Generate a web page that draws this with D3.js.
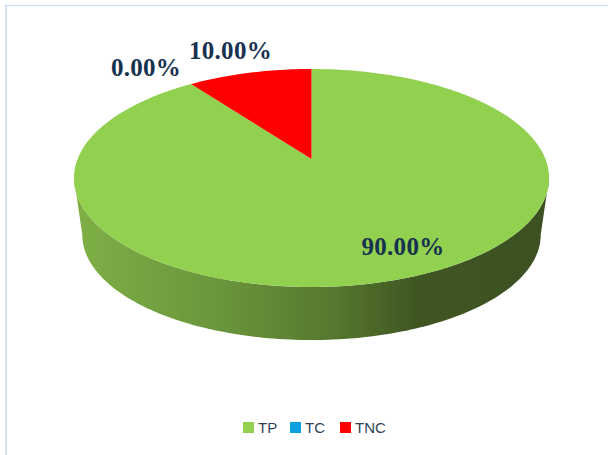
<!DOCTYPE html>
<html>
<head>
<meta charset="utf-8">
<script src="https://d3js.org/d3.v7.min.js"></script>
<style>
	html, body { margin: 0; padding: 0; background: #fff; }
	svg { display: block; }
</style>
</head>
<body>
<div id="chart"></div>
<script>
const categories = ["TP", "TC", "TNC"];
const values = [90, 0, 10];
const labels = ["90.00%", "0.00%", "10.00%"];
const colors = ["#92d050", "#0ba0e0", "#ff0000"];

const width = 608;
const height = 455;

// perspective settings of the disc, picked to fit the picture
const center = { x: 311.5, y: 159 };
const radiusX = 233.9;
const radiusY = 105.7;
const tilt = 0.1743;
const depth = 57.5;
const baseScale = 0.965;

const labelPos = [
	{ x: 403, y: 255 },
	{ x: 146, y: 76 },
	{ x: 230.5, y: 59 }
];
const legendX = [243, 290, 340];

const color = d3.scaleOrdinal().domain(categories).range(colors);

const svg = d3.select("#chart").append("svg")
	.attr("width", width)
	.attr("height", height);

// frame lines at the top and left of the picture
svg.append("line").attr("x1", 5).attr("x2", width).attr("y1", 5.5).attr("y2", 5.5)
	.style("stroke", "#d3e2f4").style("stroke-width", 1.5);
svg.append("line").attr("x1", 6).attr("x2", 6).attr("y1", 5).attr("y2", height)
	.style("stroke", "#d3e2f4").style("stroke-width", 2);

const defs = svg.append("defs");
const wallGrad = defs.append("linearGradient")
	.attr("id", "wall")
	.attr("gradientUnits", "userSpaceOnUse")
	.attr("x1", 74).attr("x2", 549).attr("y1", 0).attr("y2", 0);
[[0, "#7fb046"], [0.3, "#6b963b"], [0.55, "#56772f"], [0.72, "#3f5622"], [1, "#3c5021"]]
	.forEach(d => wallGrad.append("stop").attr("offset", d[0]).attr("stop-color", d[1]));

// angle 0 is twelve o'clock, going clockwise like d3.pie
function topPoint(a) {
	const u = Math.sin(a);
	const v = -Math.cos(a);
	const w = 1 - tilt * v;
	return [center.x + radiusX * u / w, center.y + radiusY * v / w];
}

function basePoint(a) {
	const p = topPoint(a);
	return [
		center.x + (p[0] - center.x) * baseScale,
		center.y + (p[1] - center.y) * baseScale + depth
	];
}

function arcPoints(start, end, fn) {
	const n = Math.max(2, Math.ceil((end - start) / 0.02));
	return d3.range(n + 1).map(i => fn(start + (end - start) * i / n));
}

const line = d3.line();
const pie = d3.pie().sort(null);
const arcs = pie(values);

// side wall runs between the widest points of the two rims
const wallStart = Math.PI / 2 + Math.asin(tilt);
const wallEnd = 3 * Math.PI / 2 - Math.asin(tilt);
const wallPts = arcPoints(wallStart, wallEnd, topPoint)
	.concat(arcPoints(wallStart, wallEnd, basePoint).reverse());

svg.append("path")
	.attr("class", "wall")
	.attr("d", line(wallPts) + "Z")
	.style("fill", "url(#wall)");

// top face
svg.append("g")
	.selectAll("path")
	.data(arcs)
	.enter()
	.append("path")
		.attr("d", d => line([[center.x, center.y]].concat(arcPoints(d.startAngle, d.endAngle, topPoint))) + "Z")
		.style("fill", (d, i) => color(categories[i]));

svg.append("g")
	.selectAll("text")
	.data(labels)
	.enter()
	.append("text")
		.attr("x", (d, i) => labelPos[i].x)
		.attr("y", (d, i) => labelPos[i].y)
		.attr("text-anchor", "middle")
		.style("font-family", "'Liberation Serif', serif")
		.style("font-weight", "bold")
		.style("font-size", "25px")
		.style("letter-spacing", "0.3px")
		.style("fill", "#17324f")
		.text(d => d);

const legend = svg.append("g")
	.selectAll("g")
	.data(categories)
	.enter()
	.append("g")
		.attr("transform", (d, i) => `translate(${legendX[i]}, 422)`);

legend.append("rect")
	.attr("width", 11)
	.attr("height", 11)
	.style("fill", d => color(d));

legend.append("text")
	.attr("x", 15)
	.attr("y", 11)
	.style("font-family", "'Liberation Sans', sans-serif")
	.style("font-size", "15px")
	.style("fill", "#2f4258")
	.text(d => d);
</script>
</body>
</html>
